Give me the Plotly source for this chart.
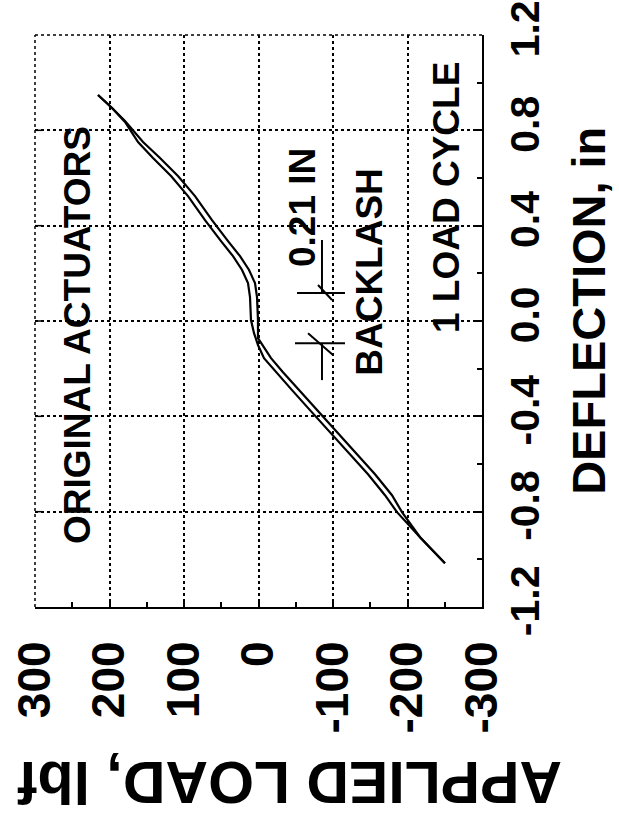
import plotly.graph_objects as go

# ---- data ----
load_ticks = [300, 200, 100, 0, -100, -200, -300]
defl_ticks = [-1.2, -0.8, -0.4, 0.0, 0.4, 0.8, 1.2]

# curve 1 (right-hand branch in the picture)
load_a = [215.4, 196.6, 179.2, 155.0, 132.2, 108.1, 85.2, 62.4, 40.9, 24.8, 12.7, 4.7, 2.0, 0.7, 0.7,
          -16.8, -32.9, -54.4, -78.5, -102.7, -129.5, -156.4, -179.2, -192.6, -216.8, -250.3]
defl_a = [0.948, 0.894, 0.839, 0.751, 0.684, 0.608, 0.524, 0.423, 0.335, 0.272, 0.214, 0.159, 0.100, 0.004, -0.072,
          -0.156, -0.215, -0.290, -0.374, -0.458, -0.550, -0.643, -0.731, -0.802, -0.907, -1.016]

# curve 2 (left-hand branch in the picture)
load_b = [215.4, 196.6, 179.2, 161.7, 141.6, 117.4, 94.6, 71.8, 50.3, 34.2, 22.1, 14.1, 11.4, 10.1, 6.0, 0.7,
          -7.4, -23.5, -45.0, -69.1, -93.3, -120.1, -147.0, -169.8, -185.9, -216.8, -250.3]
defl_b = [0.948, 0.894, 0.835, 0.751, 0.684, 0.608, 0.524, 0.423, 0.335, 0.272, 0.214, 0.159, 0.100, 0.004, -0.051, -0.101,
          -0.156, -0.215, -0.290, -0.374, -0.458, -0.550, -0.643, -0.731, -0.802, -0.907, -1.016]

# backlash dimension levels (in) and load where marked
backlash_levels = [0.117, -0.093]
backlash_load = -85.2

FONT = "Liberation Sans, Arial, sans-serif"

fig = go.Figure()
for lx, dy in [(load_a, defl_a), (load_b, defl_b)]:
    fig.add_trace(go.Scatter(x=lx, y=dy, mode="lines",
                             line=dict(color="black", width=2.2), hoverinfo="skip"))

grid = dict(showgrid=True, gridcolor="black", griddash="dot", gridwidth=1.5,
            zeroline=False, showline=True, linecolor="black", linewidth=2,
            ticks="inside", ticklen=8, tickcolor="black", tickwidth=1.5,
            ticklabeloverflow="allow", automargin=False)
fig.update_xaxes(range=[300, -300], tickvals=load_ticks, ticktext=[str(v) for v in load_ticks],
                 tickangle=-90, ticklabelstandoff=14,
                 tickfont=dict(family=FONT, size=46, color="black", weight="bold"),
                 minor=dict(ticks="inside", tickvals=[250, 150, 50, -50, -150, -250], ticklen=5,
                            tickcolor="black", showgrid=False), **grid)
fig.update_yaxes(range=[-1.2, 1.2], tickvals=defl_ticks, ticktext=[f"{v:.1f}" for v in defl_ticks],
                 side="right", tickangle=-90, ticklabelstandoff=6,
                 tickfont=dict(family=FONT, size=41, color="black", weight="bold"),
                 minor=dict(ticks="inside", tickvals=[-1.0, -0.6, -0.2, 0.2, 0.6, 1.0], ticklen=5,
                            tickcolor="black", showgrid=False), **grid)

# dotted frame on the top and left sides
dot = dict(type="line", xref="paper", yref="paper", line=dict(color="black", width=1.5, dash="dot"))
shapes = [dict(dot, x0=0, x1=1, y0=1, y1=1), dict(dot, x0=0, x1=0, y0=0, y1=1)]
# short marks on the left edge at each deflection gridline
for v in defl_ticks[1:-1]:
    shapes.append(dict(type="line", xref="x", yref="y", x0=300, x1=290, y0=v, y1=v,
                       line=dict(color="black", width=1.5)))

# backlash dimension marks
hi, lo = backlash_levels
seg = dict(type="line", xref="x", yref="y", line=dict(color="black", width=2))
shapes += [
    dict(seg, x0=-51.7, x1=-116.1, y0=hi, y1=hi),
    dict(seg, x0=backlash_load, x1=backlash_load, y0=hi, y1=0.34),
    dict(seg, x0=-79.9, x1=-98.7, y0=0.151, y1=0.088),
    dict(seg, x0=-49.0, x1=-116.1, y0=lo, y1=lo),
    dict(seg, x0=backlash_load, x1=backlash_load, y0=lo, y1=-0.248),
    dict(seg, x0=-66.5, x1=-100.0, y0=-0.051, y1=-0.143),
]

txt = dict(family=FONT, size=37, color="black", weight="bold")
ann = [
    dict(text="ORIGINAL ACTUATORS", x=0.094, y=0.4755, font=txt),
    dict(text="1 LOAD CYCLE", x=0.9195, y=0.715, font=txt),
    dict(text="BACKLASH", x=0.749, y=0.5857, font=txt),
    dict(text="0.21 IN", x=0.597, y=0.699, font=txt),
]
annotations = [dict(a, xref="paper", yref="paper", showarrow=False, textangle=-90,
                    xanchor="center", yanchor="middle") for a in ann]
annotations.append(dict(text="DEFLECTION, in", x=1.239, y=0.5175, xref="paper", yref="paper",
                        showarrow=False, textangle=-90, xanchor="center", yanchor="middle",
                        font=dict(family=FONT, size=47, color="black", weight="bold")))
annotations.append(dict(text="APPLIED LOAD, lbf", x=0.5705, y=-0.306, xref="paper", yref="paper",
                        showarrow=False, textangle=180, xanchor="center", yanchor="middle",
                        font=dict(family=FONT, size=59, color="black", weight="bold")))

fig.update_layout(width=619, height=814, margin=dict(l=35, r=137, t=35, b=207, pad=0),
                  paper_bgcolor="white", plot_bgcolor="white", showlegend=False,
                  shapes=shapes, annotations=annotations)

fig.write_html("out.html", config={"displayModeBar": False},
               post_script="document.body.style.margin='0';")
